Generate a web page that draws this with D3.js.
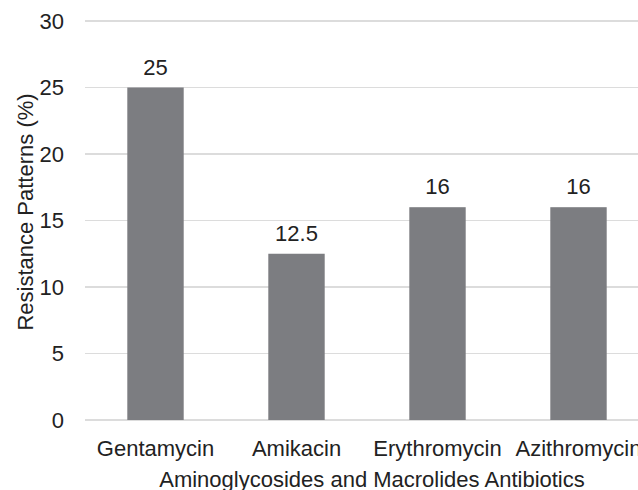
<!DOCTYPE html>
<head>
  <meta charset="utf-8">
  <script src="https://d3js.org/d3.v7.min.js"></script>
  <style>
    body { margin: 0; background: #fff; }
    text {
      font-family: "Liberation Sans", Arial, sans-serif;
      font-size: 22px;
      fill: #222;
    }
    .grid line { stroke: #dcdcdc; stroke-width: 1.3; shape-rendering: crispEdges; }
    path.domain { display: none; }
  </style>
</head>
<body>
  <script>
    var width = 638, height = 490;

    var categories = ['Gentamycin', 'Amikacin', 'Erythromycin', 'Azithromycin'];
    var values = [25, 12.5, 16, 16];
    var yTicks = [0, 5, 10, 15, 20, 25, 30];

    var data = categories.map((c, i) => ({ name: c, value: values[i] }));

    var svg = d3.select('body').append('svg')
      .attr('width', width)
      .attr('height', height);

    var x = d3.scaleBand()
      .domain(categories)
      .range([85, 649])
      .paddingInner(0.6)
      .paddingOuter(0.3);

    var y = d3.scaleLinear()
      .domain([0, 30])
      .range([420, 21]);

    // gridlines
    svg.append('g')
      .attr('class', 'grid')
      .selectAll('line')
      .data(yTicks)
      .enter()
      .append('line')
      .attr('x1', 85)
      .attr('x2', width)
      .attr('y1', d => y(d))
      .attr('y2', d => y(d));

    // y axis labels
    var yAxis = d3.axisLeft(y)
      .tickValues(yTicks)
      .tickSize(0)
      .tickPadding(0);

    svg.append('g')
      .attr('transform', 'translate(64,0)')
      .call(yAxis)
      .call(g => g.selectAll('text')
        .style('font-size', '22px')
        .style('font-family', '"Liberation Sans", Arial, sans-serif')
        .attr('fill', '#222'));

    svg.selectAll('rect.bar')
      .data(data)
      .enter()
      .append('rect')
      .attr('class', 'bar')
      .attr('x', d => x(d.name))
      .attr('width', x.bandwidth())
      .attr('y', d => y(d.value))
      .attr('height', d => y(0) - y(d.value))
      .style('fill', '#7c7d81');

    svg.selectAll('text.valueLabel')
      .data(data)
      .enter()
      .append('text')
      .attr('class', 'valueLabel')
      .attr('x', d => x(d.name) + x.bandwidth() / 2)
      .attr('y', d => y(d.value) - 13)
      .style('text-anchor', 'middle')
      .text(d => d.value);

    // x axis labels
    var xAxis = d3.axisBottom(x).tickSize(0).tickPadding(0);
    svg.append('g')
      .attr('transform', 'translate(0,440)')
      .call(xAxis)
      .call(g => g.selectAll('text')
        .attr('dy', '0.71em')
        .style('font-size', '22px')
        .style('font-family', '"Liberation Sans", Arial, sans-serif')
        .attr('fill', '#222'));

    svg.append('text')
      .attr('x', 372)
      .attr('y', 487)
      .style('text-anchor', 'middle')
      .text('Aminoglycosides and Macrolides Antibiotics');

    svg.append('text')
      .attr('transform', 'translate(33,212) rotate(-90)')
      .style('text-anchor', 'middle')
      .text('Resistance Patterns (%)');
  </script>
</body>
